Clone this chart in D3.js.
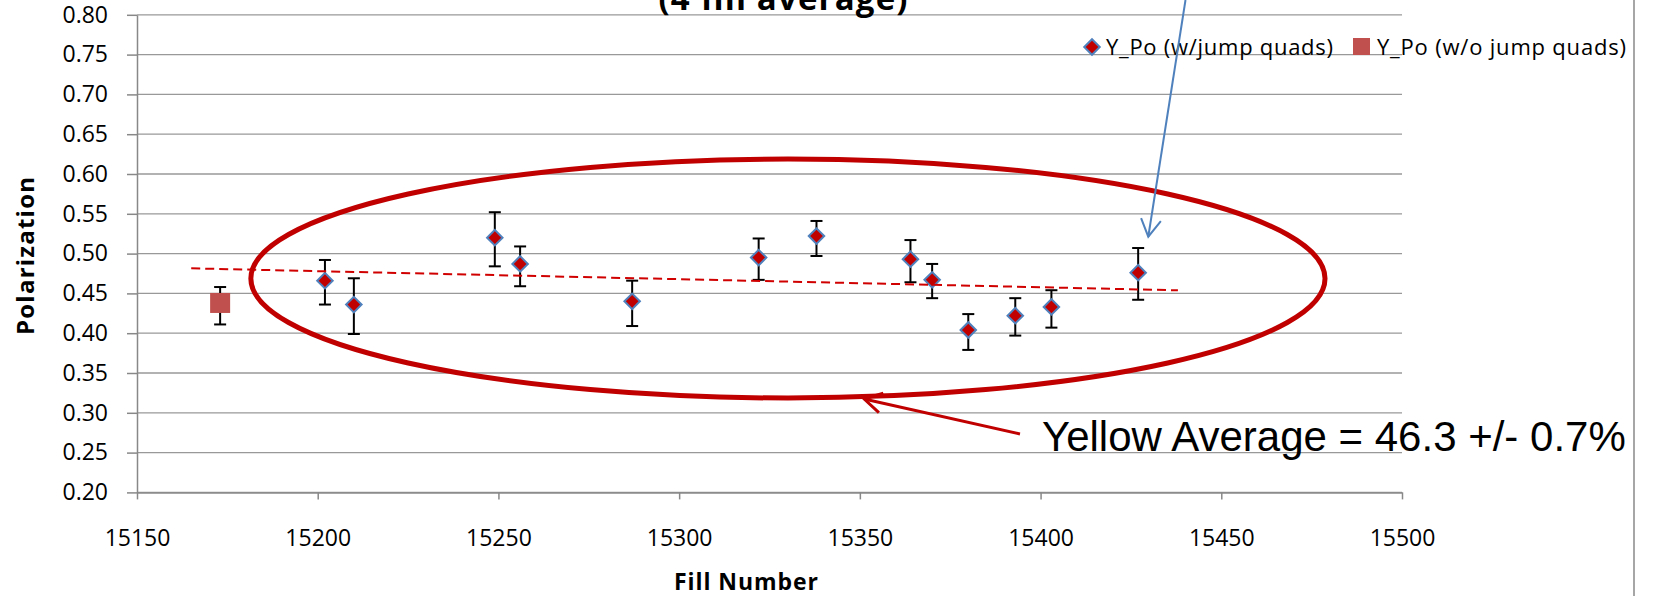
<!DOCTYPE html>
<html>
<head>
<meta charset="utf-8">
<script src="https://cdn.jsdelivr.net/npm/d3@7"></script>
<style>
  body { margin: 0; background: #fff; }
  svg { display: block; }
</style>
</head>
<body>
<svg id="chart"></svg>
<script>
// Fill numbers and polarization, with jump quads
const fillW = [15202, 15210, 15249, 15256, 15287, 15322, 15338, 15364, 15370, 15380, 15393, 15403, 15427];
const polW = [0.466, 0.436, 0.520, 0.487, 0.440, 0.495, 0.522, 0.493, 0.467, 0.404, 0.422, 0.433, 0.476];
const errHiW = [0.492, 0.469, 0.552, 0.509, 0.466, 0.519, 0.541, 0.517, 0.487, 0.424, 0.444, 0.454, 0.507];
const errLoW = [0.436, 0.399, 0.484, 0.459, 0.409, 0.467, 0.497, 0.464, 0.444, 0.379, 0.397, 0.407, 0.442];

// without jump quads
const fillWo = [15173];
const polWo = [0.438];
const errHiWo = [0.458];
const errLoWo = [0.411];

// linear trendline end points
const trendFill = [15165, 15438];
const trendPol = [0.4815, 0.4539];

const xTicks = [15150, 15200, 15250, 15300, 15350, 15400, 15450, 15500];
const yTicks = [0.20, 0.25, 0.30, 0.35, 0.40, 0.45, 0.50, 0.55, 0.60, 0.65, 0.70, 0.75, 0.80];

const seriesNames = ["Y_Po (w/jump quads)", "Y_Po (w/o jump quads)"];
const titleLine = "(4 fill average)";
const avgLabel = "Yellow Average = 46.3 +/- 0.7%";

// annotation shapes, in data units
const ringCenter = [15330.1, 0.4687];
const ringRadius = [148.6, 0.1501];
const blueArrow = [[15440.1, 0.8186], [15429.8, 0.5212]];
const redArrow = [[15394.3, 0.2734], [15351.2, 0.3173]];

const width = 1653, height = 596;
const font = "'Open Sans', sans-serif";

const svg = d3.select("#chart").attr("width", width).attr("height", height);

const x = d3.scaleLinear().domain([15150, 15500]).range([137, 1402]);
const y = d3.scaleLinear().domain([0.2, 0.8]).range([492.4, 14.8]);

// gridlines
svg.append("g")
  .selectAll("line")
  .data(yTicks)
  .enter()
  .append("line")
  .attr("x1", x.range()[0])
  .attr("x2", x.range()[1])
  .attr("y1", d => y(d))
  .attr("y2", d => y(d))
  .attr("stroke", "#999")
  .attr("stroke-width", 1.3);

// Axes
const yAxis = svg.append("g")
  .attr("transform", `translate(${x.range()[0]},0)`)
  .call(d3.axisLeft(y).tickValues(yTicks).tickFormat(d3.format(".2f")).tickSize(10).tickSizeOuter(0).tickPadding(19));

const xAxis = svg.append("g")
  .attr("transform", `translate(0,${y.range()[0]})`)
  .call(d3.axisBottom(x).tickValues(xTicks).tickFormat(d3.format("d")).tickSize(7).tickSizeOuter(0).tickPadding(30));

[yAxis, xAxis].forEach(g => {
  g.select(".domain").attr("stroke", "#888").attr("stroke-width", 1.5);
  g.selectAll(".tick line").attr("stroke", "#888").attr("stroke-width", 1.5);
  g.selectAll(".tick text")
    .attr("fill", "#000")
    .style("font-family", font)
    .style("font-size", "23px");
});

// chart frame right edge
svg.append("line")
  .attr("x1", 1634).attr("x2", 1634)
  .attr("y1", 0).attr("y2", height)
  .attr("stroke", "#888")
  .attr("stroke-width", 1.5);

// Axis titles
svg.append("text")
  .attr("x", 746)
  .attr("y", 590)
  .attr("text-anchor", "middle")
  .attr("textLength", 144)
  .style("font-family", font)
  .style("font-weight", "bold")
  .style("font-size", "23px")
  .text("Fill Number");

svg.append("text")
  .attr("transform", "translate(34,256) rotate(-90)")
  .attr("text-anchor", "middle")
  .attr("textLength", 158)
  .style("font-family", font)
  .style("font-weight", "bold")
  .style("font-size", "24px")
  .text("Polarization");

// title (upper line is cut off by the frame)
svg.append("text")
  .attr("x", 783)
  .attr("y", 10)
  .attr("text-anchor", "middle")
  .attr("textLength", 249)
  .style("font-family", font)
  .style("font-weight", "bold")
  .style("font-size", "33px")
  .text(titleLine);

// error bars
function errorBars(fills, hi, lo) {
  const g = svg.append("g").attr("stroke", "#000").attr("stroke-width", 2);
  fills.forEach((f, i) => {
    const cx = x(f);
    g.append("line").attr("x1", cx).attr("x2", cx).attr("y1", y(hi[i])).attr("y2", y(lo[i]));
    g.append("line").attr("x1", cx - 6).attr("x2", cx + 6).attr("y1", y(hi[i])).attr("y2", y(hi[i]));
    g.append("line").attr("x1", cx - 6).attr("x2", cx + 6).attr("y1", y(lo[i])).attr("y2", y(lo[i]));
  });
}
errorBars(fillWo, errHiWo, errLoWo);
errorBars(fillW, errHiW, errLoW);

// Set2 - squares
svg.selectAll(".pt-wo")
  .data(fillWo)
  .enter()
  .append("rect")
  .attr("class", "pt-wo")
  .attr("x", d => x(d) - 10)
  .attr("y", (d, i) => y(polWo[i]) - 10)
  .attr("width", 20)
  .attr("height", 20)
  .attr("fill", "#C0504D");

// Set1 - diamonds
const diamond = d3.symbol(d3.symbolSquare, 120);
svg.selectAll(".pt-w")
  .data(fillW)
  .enter()
  .append("path")
  .attr("class", "pt-w")
  .attr("d", diamond)
  .attr("transform", (d, i) => `translate(${x(d)},${y(polW[i])}) rotate(45)`)
  .attr("fill", "#C00000")
  .attr("stroke", "#4F81BD")
  .attr("stroke-width", 2);

// trendline
svg.append("line")
  .attr("x1", x(trendFill[0])).attr("y1", y(trendPol[0]))
  .attr("x2", x(trendFill[1])).attr("y2", y(trendPol[1]))
  .attr("stroke", "#D00000")
  .attr("stroke-width", 2)
  .attr("stroke-dasharray", "9,5");

// legend
const legend = svg.append("g");
legend.append("path")
  .attr("d", d3.symbol(d3.symbolSquare, 120))
  .attr("transform", "translate(1092,47) rotate(45)")
  .attr("fill", "#C00000")
  .attr("stroke", "#4F81BD")
  .attr("stroke-width", 2);
legend.append("text")
  .attr("x", 1106).attr("y", 55)
  .attr("textLength", 227)
  .style("font-family", font).style("font-size", "22px")
  .text(seriesNames[0]);
legend.append("rect")
  .attr("x", 1353).attr("y", 38).attr("width", 17).attr("height", 17)
  .attr("fill", "#C0504D");
legend.append("text")
  .attr("x", 1377).attr("y", 55)
  .attr("textLength", 249)
  .style("font-family", font).style("font-size", "22px")
  .text(seriesNames[1]);

// ring around the points
svg.append("ellipse")
  .attr("cx", x(ringCenter[0]))
  .attr("cy", y(ringCenter[1]))
  .attr("rx", x(ringCenter[0] + ringRadius[0]) - x(ringCenter[0]))
  .attr("ry", y(ringCenter[1] - ringRadius[1]) - y(ringCenter[1]))
  .attr("fill", "none")
  .attr("stroke", "#C00000")
  .attr("stroke-width", 5);

// open arrows
function arrow(pts, color, w) {
  const [x0, y0] = [x(pts[0][0]), y(pts[0][1])];
  const [x1, y1] = [x(pts[1][0]), y(pts[1][1])];
  const a = Math.atan2(y0 - y1, x0 - x1);
  const len = 20, spread = Math.PI / 6;
  const g = svg.append("g").attr("stroke", color).attr("stroke-width", w).attr("fill", "none");
  g.append("line").attr("x1", x0).attr("y1", y0).attr("x2", x1).attr("y2", y1);
  g.append("polyline")
    .attr("points", [
      [x1 + len * Math.cos(a - spread), y1 + len * Math.sin(a - spread)],
      [x1, y1],
      [x1 + len * Math.cos(a + spread), y1 + len * Math.sin(a + spread)]
    ].map(p => p.join(",")).join(" "));
}
arrow(blueArrow, "#4F81BD", 2);
arrow(redArrow, "#C00000", 3);

svg.append("text")
  .attr("x", 1042)
  .attr("y", 451)
  .style("font-family", "'Liberation Sans', Arial, sans-serif")
  .style("font-size", "42px")
  .text(avgLabel);
</script>
</body>
</html>
